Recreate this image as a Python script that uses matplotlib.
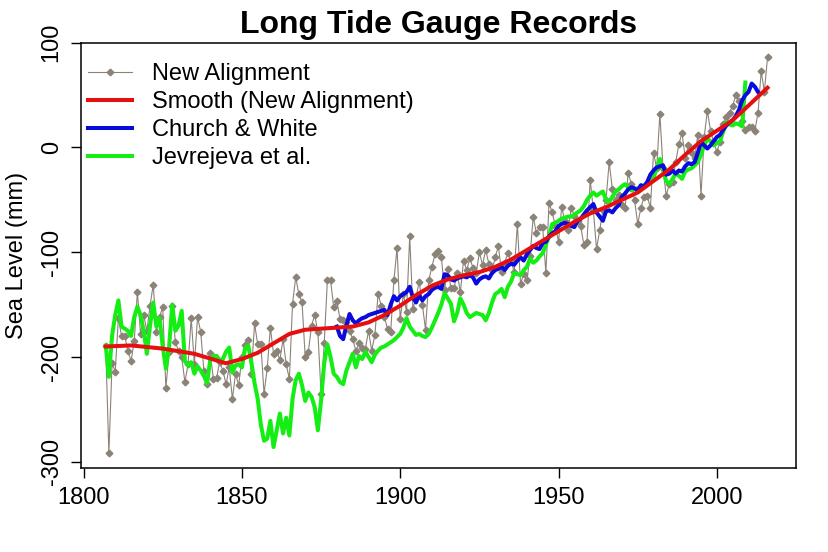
import numpy as np
import matplotlib
matplotlib.use("Agg")
import matplotlib.pyplot as plt

plt.rcParams['font.family'] = ['Liberation Sans', 'DejaVu Sans']

# ---------------- data ----------------
align_start = 1807
new_alignment = [
    # 1807-1816
    -190, -292, -206, -214, -163, -180, -180, -194, -204, -185,
    # 1817-1826
    -138, -178, -160, -175, -151, -131, -176, -162, -152, -230,
    # 1827-1836
    -195, -151, -186, -194, -200, -224, -207, -163, -207, -162,
    # 1837-1846
    -176, -213, -226, -196, -221, -220, -205, -213, -226, -210,
    # 1847-1856
    -240, -216, -227, -200, -189, -184, -216, -168, -188, -188,
    # 1857-1866
    -235, -211, -172, -197, -194, -203, -183, -207, -221, -149,
    # 1867-1876
    -124, -140, -148, -200, -195, -170, -160, -176, -235, -187,
    # 1877-1886
    -127, -127, -152, -147, -164, -165, -167, -175, -183, -194,
    # 1887-1896
    -187, -191, -192, -175, -194, -179, -140, -151, -162, -173,
    # 1897-1906
    -176, -127, -96, -164, -140, -157, -85, -154, -143, -128,
    # 1907-1916
    -150, -174, -127, -114, -102, -99, -105, -136, -116, -134,
    # 1917-1926
    -134, -120, -138, -108, -117, -106, -115, -120, -100, -112,
    # 1927-1936
    -98, -111, -117, -105, -94, -119, -110, -101, -108, -119,
    # 1937-1946
    -73, -130, -121, -127, -104, -66, -82, -76, -76, -120,
    # 1947-1956
    -53, -62, -75, -90, -57, -70, -79, -58, -65, -70,
    # 1957-1966
    -75, -93, -90, -31, -60, -97, -79, -60, -50, -14,
    # 1967-1976
    -40, -50, -45, -55, -58, -24, -35, -50, -73, -58,
    # 1977-1986
    -47, -46, -58, -5, -20, 32, -20, -46, -35, -33,
    # 1987-1996
    -14, 3, 14, -10, 2, -5, -10, 12, -46, 10,
    # 1997-2006
    35, 16, 5, -4, 5, 22, 29, 33, 40, 50,
    # 2007-2016
    44, 25, 17, 20, 20, 16, 33, 73, 53, 86,
]

smooth_years = [1807, 1815, 1825, 1835, 1845, 1850, 1855, 1860, 1865, 1870,
                1875, 1880, 1885, 1890, 1895, 1900, 1905, 1910, 1915, 1920,
                1925, 1930, 1935, 1940, 1945, 1950, 1955, 1960, 1965, 1970,
                1975, 1980, 1985, 1990, 1995, 2000, 2005, 2010, 2016]
smooth_values = [-190, -189, -192, -197, -206, -202, -196, -187, -178, -174,
                 -173, -172, -171, -167, -160, -151, -141, -132, -126, -122,
                 -119, -114, -107, -98, -89, -80, -71, -63, -57, -50,
                 -43, -32, -21, -7, 6, 16, 26, 40, 57]

church_start = 1880
church_white = [
    # 1880-1889
    -171, -180, -183, -170, -159, -165, -168, -165, -163, -162,
    # 1890-1899
    -160, -159, -158, -157, -156, -155, -160, -150, -142, -146,
    # 1900-1909
    -142, -140, -138, -133, -143, -148, -141, -146, -142, -140,
    # 1910-1919
    -136, -134, -133, -135, -121, -122, -126, -127, -125, -124,
    # 1920-1929
    -123, -124, -122, -124, -130, -126, -124, -123, -125, -120,
    # 1930-1939
    -117, -116, -114, -117, -113, -111, -112, -108, -105, -108,
    # 1940-1949
    -102, -98, -94, -96, -97, -91, -90, -85, -82, -80,
    # 1950-1959
    -75, -73, -72, -73, -75, -76, -70, -68, -64, -60,
    # 1960-1969
    -57, -54, -62, -66, -70, -61, -60, -62, -58, -55,
    # 1970-1979
    -47, -44, -40, -38, -39, -41, -36, -37, -33, -26,
    # 1980-1989
    -22, -19, -18, -17, -26, -25, -22, -25, -22, -23,
    # 1990-1999
    -18, -15, -16, -14, -5, 5, 2, -1, 2, 6,
    # 2000-2009
    10, 12, 17, 21, 24, 26, 30, 36, 45, 50,
    # 2010-2013
    53, 61, 58, 53,
]

jevrejeva_start = 1807
jevrejeva = [
    # 1807-1816
    -189, -219, -180, -160, -146, -171, -173, -175, -180, -162,
    # 1817-1826
    -152, -160, -175, -197, -170, -148, -171, -163, -190, -211,
    # 1827-1836
    -191, -150, -175, -170, -156, -204, -208, -205, -216, -209,
    # 1837-1846
    -213, -218, -225, -203, -199, -199, -203, -202, -195, -191,
    # 1847-1856
    -215, -208, -207, -210, -192, -189, -205, -225, -240, -265,
    # 1857-1866
    -280, -278, -261, -286, -270, -254, -273, -258, -275, -240,
    # 1867-1876
    -222, -216, -227, -242, -234, -238, -248, -270, -242, -206,
    # 1877-1886
    -188, -200, -216, -219, -224, -226, -213, -205, -197, -210,
    # 1887-1896
    -199, -202, -195, -200, -205, -198, -194, -191, -190, -188,
    # 1897-1906
    -186, -184, -181, -178, -172, -163, -171, -175, -179, -178,
    # 1907-1916
    -180, -181, -178, -172, -165, -158, -150, -139, -144, -149,
    # 1917-1926
    -166, -158, -144, -150, -158, -162, -160, -158, -159, -160,
    # 1927-1936
    -165, -158, -148, -140, -138, -135, -143, -133, -128, -120,
    # 1937-1946
    -121, -122, -117, -114, -106, -110, -108, -104, -101, -93,
    # 1947-1956
    -85, -73, -72, -70, -68, -67, -66, -66, -64, -62,
    # 1957-1966
    -60, -56, -50, -46, -43, -46, -44, -42, -50, -52,
    # 1967-1976
    -47, -42, -40, -37, -35, -38, -41, -40, -39, -38,
    # 1977-1986
    -37, -34, -32, -29, -20, -11, -22, -32, -35, -30,
    # 1987-1996
    -25, -27, -30, -23, -21, -20, -17, -14, -7, 2,
    # 1997-2006
    8, 6, 2, 4, 6, 15, 24, 22, 21, 23,
    # 2007-2009
    22, 20, 62,
]

x_ticks = [1800, 1850, 1900, 1950, 2000]
y_ticks = [-300, -200, -100, 0, 100]

align_years = np.arange(align_start, align_start + len(new_alignment))
church_years = np.arange(church_start, church_start + len(church_white))
jev_years = np.arange(jevrejeva_start, jevrejeva_start + len(jevrejeva))

# ---------------- figure ----------------
W, H = 829, 552
fig = plt.figure(figsize=(W / 100, H / 100), dpi=100)
left, right, top, bottom = 80.7, 795.7, 42.7, 468.0
ax = fig.add_axes([left / W, 1 - bottom / H, (right - left) / W, (bottom - top) / H])

gray = '#8b8378'
ax.plot(align_years, new_alignment, color=gray, lw=0.8, marker='D', ms=3.4,
        mec=gray, mfc=gray, label='New Alignment', zorder=2)
ax.plot(jev_years, jevrejeva, color='#14ee14', lw=2.9, label='Jevrejeva et al.',
        zorder=3, solid_joinstyle='round')
ax.plot(church_years, church_white, color='#0a0adc', lw=2.9, label='Church & White',
        zorder=4, solid_joinstyle='round')
ax.plot(smooth_years, smooth_values, color='#e60f0f', lw=2.9,
        label='Smooth (New Alignment)', zorder=5)

ax.set_xlim(1799.1, 2024.9)
ax.set_ylim(-306, 100)
ax.set_xticks(x_ticks)
ax.set_yticks(y_ticks)
ax.set_yticklabels([str(v) for v in y_ticks], rotation=90, va='center')

ax.tick_params(axis='both', direction='out', length=7, width=1, labelsize=17,
               color='black')
ax.tick_params(axis='x', pad=7)
ax.tick_params(axis='y', pad=6)
for s in ax.spines.values():
    s.set_linewidth(1.1)
    s.set_color('black')

ax.set_title('Long Tide Gauge Records', fontsize=23, fontweight='bold', pad=7)
ax.set_ylabel('Sea Level (mm)', fontsize=17, labelpad=9)

handles, labels = ax.get_legend_handles_labels()
order = ['New Alignment', 'Smooth (New Alignment)', 'Church & White', 'Jevrejeva et al.']
hmap = dict(zip(labels, handles))
leg = ax.legend([hmap[k] for k in order], order, loc='upper left', frameon=False,
                fontsize=17, handlelength=1.85, handletextpad=0.85,
                labelspacing=0.255, borderaxespad=0, borderpad=0,
                bbox_to_anchor=(88 / W, 1 - 63 / H), bbox_transform=fig.transFigure,
                numpoints=1)

fig.savefig('out.png', dpi=100)
